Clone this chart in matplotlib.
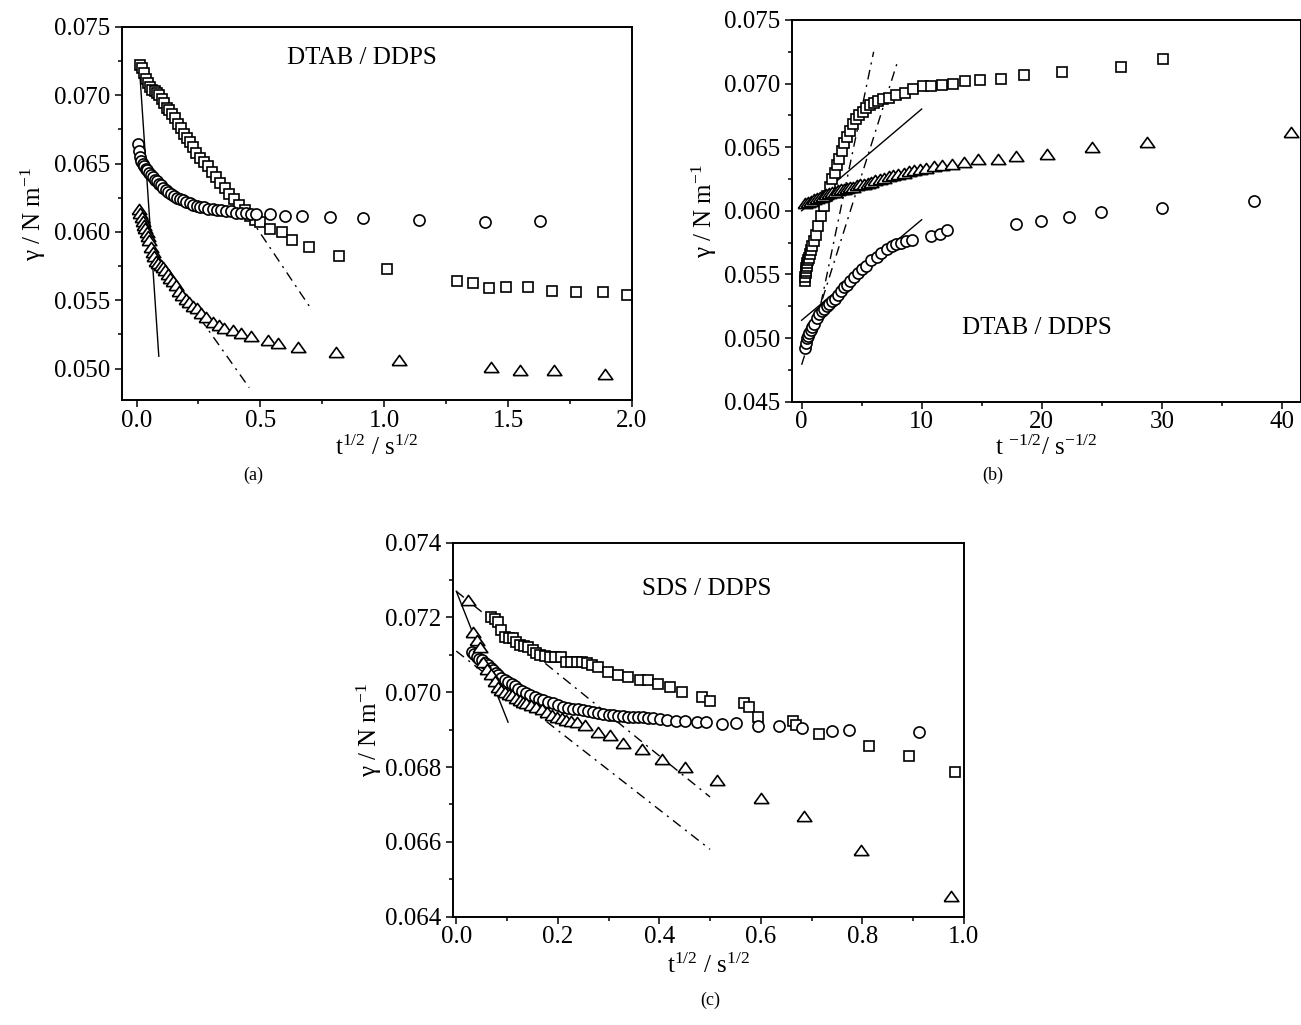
import matplotlib
matplotlib.use("Agg")
import matplotlib.pyplot as plt
from matplotlib.ticker import MultipleLocator, FormatStrFormatter

plt.rcParams['font.family'] = ['Liberation Serif', 'DejaVu Serif']
plt.rcParams['mathtext.fontset'] = 'custom'
plt.rcParams['mathtext.rm'] = 'Liberation Serif'
plt.rcParams['mathtext.it'] = 'Liberation Serif:italic'

# ---- (a) DTAB / DDPS, short time, t^1/2 ----
a_sq_x = [0.015, 0.022, 0.030, 0.038, 0.046, 0.055, 0.064, 0.073, 0.082, 0.092, 0.102, 0.112,
          0.122, 0.133, 0.144, 0.155, 0.166, 0.178, 0.190, 0.202, 0.215, 0.228, 0.242, 0.256,
          0.271, 0.287, 0.303, 0.320, 0.338, 0.356, 0.375, 0.395, 0.415, 0.437, 0.460, 0.480,
          0.497, 0.537, 0.587, 0.629, 0.696, 0.817, 1.011, 1.293, 1.359, 1.425, 1.493, 1.579,
          1.676, 1.775, 1.882, 1.979]
a_sq_y = [0.0722, 0.0720, 0.0716, 0.0712, 0.0709, 0.0706, 0.0704, 0.0703, 0.0702, 0.0700, 0.0697, 0.0694,
          0.0691, 0.0689, 0.0686, 0.0683, 0.0679, 0.0676, 0.0672, 0.0669, 0.0666, 0.0662, 0.0658, 0.0654,
          0.0651, 0.0648, 0.0644, 0.0640, 0.0636, 0.0632, 0.0628, 0.0624, 0.0620, 0.0616, 0.0612, 0.0609,
          0.0607, 0.0602, 0.0600, 0.0594, 0.0589, 0.0582, 0.0573, 0.0564, 0.05625, 0.0559, 0.0560, 0.0560,
          0.0557, 0.0556, 0.0556, 0.0554]

a_ci_x = [0.006, 0.010, 0.015, 0.020, 0.025, 0.031, 0.037, 0.044, 0.051, 0.058, 0.065, 0.073,
          0.081, 0.089, 0.098, 0.108, 0.118, 0.128, 0.139, 0.150, 0.162, 0.174, 0.187, 0.200,
          0.214, 0.228, 0.243, 0.258, 0.274, 0.290, 0.307, 0.324, 0.342, 0.361, 0.380, 0.400,
          0.421, 0.442, 0.464, 0.484, 0.537, 0.598, 0.669, 0.780, 0.914, 1.139, 1.406, 1.627]
a_ci_y = [0.0664, 0.0659, 0.0655, 0.0652, 0.0650, 0.0648, 0.0646, 0.0645, 0.0643, 0.0642, 0.0640, 0.0638,
          0.0637, 0.0635, 0.0634, 0.0632, 0.0631, 0.0629, 0.0628, 0.0626, 0.0625, 0.0624, 0.0623, 0.0622,
          0.0621, 0.0620, 0.0619, 0.0618, 0.0618, 0.0617, 0.0617, 0.0616, 0.0616, 0.0615, 0.0615, 0.0614,
          0.0614, 0.0614, 0.0613, 0.0613, 0.0613, 0.0612, 0.0612, 0.0611, 0.0610, 0.0609, 0.0607, 0.0608]

a_tr_x = [0.011, 0.016, 0.021, 0.026, 0.031, 0.036, 0.041, 0.046, 0.052, 0.058, 0.065, 0.072,
          0.080, 0.088, 0.097, 0.106, 0.116, 0.126, 0.137, 0.148, 0.160, 0.172, 0.185, 0.199,
          0.213, 0.228, 0.244, 0.260, 0.280, 0.307, 0.332, 0.354, 0.388, 0.421, 0.462, 0.529,
          0.571, 0.652, 0.807, 1.060, 1.430, 1.547, 1.685, 1.891]
a_tr_y = [0.0617, 0.0614, 0.0611, 0.0608, 0.0605, 0.0603, 0.0600, 0.0597, 0.0594, 0.0589, 0.0585, 0.0582,
          0.0579, 0.0577, 0.0576, 0.0574, 0.0572, 0.0569, 0.0566, 0.0564, 0.0561, 0.0557, 0.0554, 0.0551,
          0.0549, 0.0546, 0.0544, 0.0541, 0.0538, 0.0534, 0.0532, 0.0530, 0.0528, 0.0526, 0.0524, 0.0521,
          0.0519, 0.0516, 0.0512, 0.0506, 0.0501, 0.0499, 0.0499, 0.0496]

a_fit_x = [0.010, 0.090]
a_fit_y = [0.0725, 0.0509]
a_sq_dd_x = [0.40, 0.70]
a_sq_dd_y = [0.0626, 0.0545]
a_tr_dd_x = [0.15, 0.455]
a_tr_dd_y = [0.0564, 0.0486]

# ---- (b) DTAB / DDPS, long time, t^-1/2 ----
b_sq_x = [0.28, 0.31, 0.34, 0.37, 0.40, 0.44, 0.48, 0.53, 0.60, 0.68, 0.78, 0.90, 1.03, 1.19,
          1.39, 1.60, 1.85, 2.10, 2.35, 2.55, 2.75, 2.95, 3.15, 3.35, 3.55, 3.80, 4.05, 4.30,
          4.55, 4.80, 5.10, 5.40, 5.70, 6.00, 6.40, 6.80, 7.30, 7.90, 8.60, 9.30, 10.1, 10.8,
          11.7, 12.6, 13.6, 14.9, 16.6, 18.5, 21.7, 26.6, 30.1]
b_sq_y = [0.0545, 0.0548, 0.0551, 0.0553, 0.0555, 0.0557, 0.0559, 0.0561, 0.0563, 0.0566, 0.0569, 0.0572, 0.0576, 0.0581,
          0.0588, 0.0596, 0.0604, 0.0612, 0.0619, 0.0625, 0.0630, 0.0636, 0.0641, 0.0647, 0.0653, 0.0658, 0.0663, 0.0668,
          0.0672, 0.0675, 0.0678, 0.0681, 0.0683, 0.0685, 0.0686, 0.0688, 0.0689, 0.0691, 0.0693, 0.0696, 0.0698, 0.0698,
          0.0699, 0.0700, 0.0702, 0.0703, 0.0704, 0.0707, 0.0709, 0.0713, 0.0719]

b_tr_x = [0.30, 0.55, 0.80, 1.05, 1.30, 1.55, 1.80, 2.05, 2.30, 2.55, 2.80, 3.05, 3.30, 3.55,
          3.80, 4.05, 4.30, 4.60, 4.90, 5.20, 5.50, 5.80, 6.15, 6.50, 6.85, 7.25, 7.65, 8.05,
          8.50, 8.95, 9.40, 9.90, 10.4, 11.0, 11.7, 12.5, 13.5, 14.7, 16.4, 17.9, 20.4, 24.2,
          28.8, 40.8]
b_tr_y = [0.0606, 0.0607, 0.0608, 0.0609, 0.0610, 0.0611, 0.0612, 0.0613, 0.0614, 0.0615, 0.0615, 0.0616, 0.0617, 0.0617,
          0.0618, 0.0619, 0.0619, 0.0620, 0.0621, 0.0621, 0.0622, 0.0623, 0.0624, 0.0625, 0.0626, 0.0627, 0.0628, 0.0629,
          0.0630, 0.0631, 0.0632, 0.0633, 0.0634, 0.0635, 0.0636, 0.0637, 0.0638, 0.0641, 0.0641, 0.0643, 0.0645, 0.0650,
          0.0654, 0.0662]

b_ci_x = [0.28, 0.35, 0.42, 0.52, 0.62, 0.75, 0.90, 1.05, 1.25, 1.45, 1.67, 1.88, 2.08, 2.30,
          2.50, 2.75, 3.05, 3.30, 3.55, 3.80, 4.05, 4.35, 4.70, 5.05, 5.40, 5.80, 6.25, 6.65,
          7.10, 7.50, 7.90, 8.30, 8.70, 9.17, 10.8, 11.5, 12.1, 17.9, 19.9, 22.3, 24.9, 30.0, 37.7]
b_ci_y = [0.0492, 0.0496, 0.0500, 0.0502, 0.0504, 0.0506, 0.0509, 0.0511, 0.0516, 0.0519, 0.0521, 0.0523, 0.0525, 0.0527,
          0.0529, 0.0531, 0.0534, 0.0537, 0.0540, 0.0542, 0.0545, 0.0548, 0.0551, 0.0554, 0.0557, 0.0561, 0.0564, 0.0567,
          0.0570, 0.0572, 0.0574, 0.0575, 0.0576, 0.0577, 0.0580, 0.0582, 0.0585, 0.0590, 0.0592, 0.0595, 0.0599, 0.0602, 0.0608]

b_fit1_x = [0.0, 10.0]
b_fit1_y = [0.0600, 0.0680]
b_fit2_x = [0.0, 10.0]
b_fit2_y = [0.0514, 0.0593]
b_dd1_x = [1.6, 6.0]
b_dd1_y = [0.0527, 0.0725]
b_dd2_x = [0.0, 8.05]
b_dd2_y = [0.0479, 0.0719]

# ---- (c) SDS / DDPS, short time, t^1/2 ----
c_sq_x = [0.069, 0.076, 0.082, 0.089, 0.096, 0.104, 0.112, 0.118, 0.125, 0.133, 0.142, 0.151,
          0.158, 0.165, 0.174, 0.184, 0.195, 0.207, 0.217, 0.227, 0.237, 0.247, 0.257, 0.268,
          0.280, 0.299, 0.319, 0.339, 0.362, 0.378, 0.398, 0.421, 0.444, 0.484, 0.499, 0.566,
          0.576, 0.595, 0.664, 0.670, 0.715, 0.814, 0.893, 0.983]
c_sq_y = [0.07202, 0.07195, 0.07188, 0.07166, 0.07148, 0.07146, 0.07144, 0.07135, 0.07126, 0.07124, 0.07121, 0.07113,
          0.07106, 0.07099, 0.07097, 0.07095, 0.07095, 0.07095, 0.07081, 0.07082, 0.07081, 0.07080, 0.07077, 0.07072,
          0.07068, 0.07054, 0.07046, 0.07041, 0.07034, 0.07032, 0.07023, 0.07014, 0.07001, 0.06987, 0.06977, 0.06970,
          0.06961, 0.06934, 0.06922, 0.06912, 0.06888, 0.06856, 0.06829, 0.06788]

c_ci_x = [0.030, 0.035, 0.040, 0.045, 0.050, 0.056, 0.063, 0.068, 0.073, 0.078, 0.082, 0.089,
          0.096, 0.102, 0.109, 0.115, 0.122, 0.130, 0.138, 0.146, 0.155, 0.163, 0.171, 0.181,
          0.191, 0.201, 0.211, 0.220, 0.230, 0.240, 0.250, 0.260, 0.270, 0.280, 0.290, 0.300,
          0.309, 0.319, 0.329, 0.339, 0.349, 0.358, 0.368, 0.378, 0.388, 0.401, 0.415, 0.433,
          0.451, 0.474, 0.493, 0.523, 0.551, 0.595, 0.635, 0.681, 0.741, 0.774, 0.912]
c_ci_y = [0.07108, 0.07101, 0.07095, 0.07090, 0.07086, 0.07079, 0.07072, 0.07065, 0.07059, 0.07052, 0.07046, 0.07039,
          0.07032, 0.07028, 0.07023, 0.07016, 0.07010, 0.07003, 0.06997, 0.06992, 0.06987, 0.06983, 0.06979, 0.06974,
          0.06970, 0.06965, 0.06961, 0.06958, 0.06956, 0.06954, 0.06952, 0.06950, 0.06947, 0.06945, 0.06943, 0.06940,
          0.06938, 0.06937, 0.06936, 0.06935, 0.06934, 0.06934, 0.06934, 0.06932, 0.06931, 0.06928, 0.06925, 0.06924,
          0.06923, 0.06920, 0.06920, 0.06916, 0.06918, 0.06909, 0.06909, 0.06905, 0.06896, 0.06898, 0.06894]

c_tr_x = [0.023, 0.033, 0.040, 0.046, 0.053, 0.061, 0.069, 0.076, 0.082, 0.089, 0.096, 0.103,
          0.109, 0.117, 0.125, 0.131, 0.138, 0.148, 0.158, 0.168, 0.178, 0.188, 0.198, 0.208,
          0.217, 0.227, 0.237, 0.253, 0.280, 0.303, 0.329, 0.365, 0.405, 0.451, 0.514, 0.601,
          0.686, 0.798, 0.975]
c_tr_y = [0.07247, 0.07162, 0.07140, 0.07121, 0.07080, 0.07062, 0.07050, 0.07030, 0.07014, 0.07007, 0.07001, 0.06996,
          0.06992, 0.06985, 0.06979, 0.06975, 0.06970, 0.06966, 0.06961, 0.06954, 0.06947, 0.06940, 0.06934, 0.06930,
          0.06925, 0.06922, 0.06920, 0.06912, 0.06894, 0.06885, 0.06863, 0.06849, 0.06822, 0.06800, 0.06765, 0.06718,
          0.06668, 0.06579, 0.06454]

c_fit_x = [0.0, 0.102]
c_fit_y = [0.0727, 0.0692]
c_dd1_x = [0.0, 0.50]
c_dd1_y = [0.0727, 0.0672]
c_dd2_x = [0.0, 0.50]
c_dd2_y = [0.0711, 0.0658]

# flattened open triangle, wider than tall
tri = [(-1.0, -0.7), (1.0, -0.7), (0.0, 0.7), (-1.0, -0.7)]
DASHDOT = (0, (7, 4, 1.5, 4))
FS = 18


def draw_points(ax, xs, ys, marker, ms):
    ax.plot(xs, ys, linestyle='none', marker=marker, markersize=ms,
            markerfacecolor='white', markeredgecolor='black', markeredgewidth=1.2)


def style_axes(ax, xmaj, xmin, ymaj, ymin, xfmt, yfmt):
    ax.xaxis.set_major_locator(MultipleLocator(xmaj))
    ax.xaxis.set_minor_locator(MultipleLocator(xmin))
    ax.yaxis.set_major_locator(MultipleLocator(ymaj))
    ax.yaxis.set_minor_locator(MultipleLocator(ymin))
    ax.xaxis.set_major_formatter(FormatStrFormatter(xfmt))
    ax.yaxis.set_major_formatter(FormatStrFormatter(yfmt))
    ax.tick_params(which='major', direction='out', length=5, width=1.1, labelsize=FS)
    ax.tick_params(which='minor', direction='out', length=3, width=1.1)
    ax.tick_params(axis='x', which='major', pad=2)
    ax.tick_params(axis='y', which='major', pad=3)
    ax.tick_params(top=False, right=False, which='both')
    for s in ax.spines.values():
        s.set_linewidth(1.4)


fig = plt.figure(figsize=(13.01, 10.25), dpi=100)

# (a)
ax = fig.add_axes([0.0935, 0.6098, 0.3922, 0.3639])
ax.plot(a_fit_x, a_fit_y, color='black', lw=1.0)
ax.plot(a_sq_dd_x, a_sq_dd_y, color='black', lw=1.0, linestyle=DASHDOT)
ax.plot(a_tr_dd_x, a_tr_dd_y, color='black', lw=1.0, linestyle=DASHDOT)
draw_points(ax, a_sq_x, a_sq_y, 's', 7)
draw_points(ax, a_ci_x, a_ci_y, 'o', 8)
draw_points(ax, a_tr_x, a_tr_y, tri, 10.5)
ax.set_xlim(-0.06, 2.0)
ax.set_ylim(0.0477, 0.075)
style_axes(ax, 0.5, 0.25, 0.005, 0.0025, '%.1f', '%.3f')
ax.text(0.471, 0.917, 'DTAB / DDPS', transform=ax.transAxes, ha='center', va='center', fontsize=FS)
ax.set_xlabel('t$^{1/2}$ / s$^{1/2}$', fontsize=FS)
ax.set_ylabel('γ / N m$^{-1}$', fontsize=FS)
ax.xaxis.set_label_coords(0.5, -0.096)
ax.yaxis.set_label_coords(-0.145, 0.5)
fig.text(0.1945, 0.5366, '(a)', ha='center', va='center', fontsize=13)

# (b)
ax = fig.add_axes([0.6085, 0.6081, 0.3915, 0.3724])
ax.plot(b_fit1_x, b_fit1_y, color='black', lw=1.0)
ax.plot(b_fit2_x, b_fit2_y, color='black', lw=1.0)
ax.plot(b_dd1_x, b_dd1_y, color='black', lw=1.0, linestyle=DASHDOT)
ax.plot(b_dd2_x, b_dd2_y, color='black', lw=1.0, linestyle=DASHDOT)
draw_points(ax, b_sq_x, b_sq_y, 's', 7)
draw_points(ax, b_ci_x, b_ci_y, 'o', 8)
draw_points(ax, b_tr_x, b_tr_y, tri, 10.5)
ax.set_xlim(-0.83, 41.6)
ax.set_ylim(0.045, 0.075)
style_axes(ax, 10, 5, 0.005, 0.0025, '%d', '%.3f')
ax.text(0.482, 0.193, 'DTAB / DDPS', transform=ax.transAxes, ha='center', va='center', fontsize=FS)
ax.set_xlabel('t $^{-1/2}$/ s$^{-1/2}$', fontsize=FS)
ax.set_ylabel('γ / N m$^{-1}$', fontsize=FS)
ax.xaxis.set_label_coords(0.5, -0.089)
ax.yaxis.set_label_coords(-0.143, 0.5)
fig.text(0.7633, 0.5366, '(b)', ha='center', va='center', fontsize=13)

# (c)
ax = fig.add_axes([0.348, 0.1057, 0.3928, 0.3649])
ax.plot(c_fit_x, c_fit_y, color='black', lw=1.0)
ax.plot(c_dd1_x, c_dd1_y, color='black', lw=1.0, linestyle=DASHDOT)
ax.plot(c_dd2_x, c_dd2_y, color='black', lw=1.0, linestyle=DASHDOT)
draw_points(ax, c_sq_x, c_sq_y, 's', 7)
draw_points(ax, c_ci_x, c_ci_y, 'o', 8)
draw_points(ax, c_tr_x, c_tr_y, tri, 10.5)
ax.set_xlim(-0.007, 1.0)
ax.set_ylim(0.064, 0.074)
style_axes(ax, 0.2, 0.1, 0.002, 0.001, '%.1f', '%.3f')
ax.text(0.496, 0.876, 'SDS / DDPS', transform=ax.transAxes, ha='center', va='center', fontsize=FS)
ax.set_xlabel('t$^{1/2}$ / s$^{1/2}$', fontsize=FS)
ax.set_ylabel('γ / N m$^{-1}$', fontsize=FS)
ax.xaxis.set_label_coords(0.5, -0.1)
ax.yaxis.set_label_coords(-0.135, 0.5)
fig.text(0.5457, 0.0244, '(c)', ha='center', va='center', fontsize=13)

fig.savefig('out.png', dpi=100)
plt.close(fig)
